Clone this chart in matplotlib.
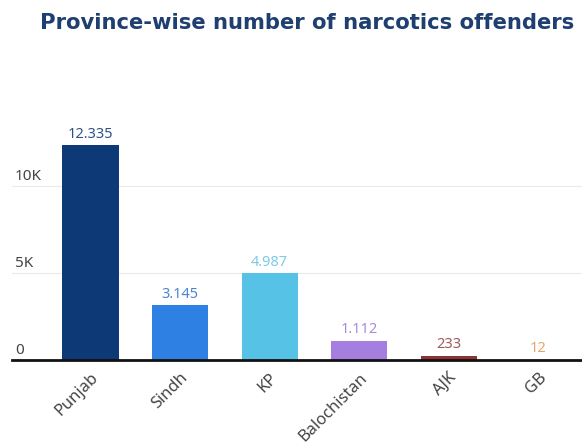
import matplotlib
matplotlib.use("Agg")
import matplotlib.pyplot as plt
import matplotlib.transforms as mtransforms

provinces = ["Punjab", "Sindh", "KP", "Balochistan", "AJK", "GB"]
offenders = [12335, 3145, 4987, 1112, 233, 12]
bar_colors = ["#0d3a76", "#2e80e2", "#56c3e6", "#a57fdf", "#8e3333", "#f0a45a"]
label_colors = ["#2f5186", "#4a86d0", "#7fcbe6", "#a98ad8", "#9c5a5a", "#e8a468"]
ytick_vals = [0, 5000, 10000]
ytick_text = ["0", "5K", "10K"]

plt.rcParams['font.family'] = ['Noto Sans', 'DejaVu Sans']

fig = plt.figure(figsize=(5.82, 4.45), dpi=100)
W, H = 582, 445
ymax = 14000
px_per_unit = 0.0174
ax_bottom = 360
ax_h = ymax * px_per_unit
ax = fig.add_axes([12 / W, (H - ax_bottom) / H, 570 / W, ax_h / H])

x = range(len(provinces))
ax.bar(x, offenders, width=0.626, color=bar_colors, zorder=3)
ax.set_xlim(-0.877, 5.49)
ax.set_ylim(0, ymax)

for s in ["top", "right", "left"]:
    ax.spines[s].set_visible(False)
ax.spines["bottom"].set_linewidth(2)
ax.spines["bottom"].set_color("#111111")
ax.spines["bottom"].set_zorder(4)

ax.set_yticks(ytick_vals)
ax.set_yticklabels([])
ax.tick_params(axis="y", length=0)
ax.yaxis.grid(True, color="#ebebeb", linewidth=0.8, zorder=0)

# y labels sit above the grid lines, left aligned
trans = mtransforms.blended_transform_factory(ax.transAxes, ax.transData)
for v, t in zip(ytick_vals, ytick_text):
    ax.text(0.005, v + 130, t, transform=trans, ha="left", va="bottom",
            fontsize=11, color="#444444")

for i, v in enumerate(offenders):
    txt = f"{v:,}".replace(",", ".")
    ax.text(i, v + 200, txt, ha="center", va="bottom", fontsize=10.5,
            color=label_colors[i])

ax.set_xticks(list(x))
ax.set_xticklabels(provinces, rotation=45, ha="right", rotation_mode="anchor",
                   fontsize=11.8, color="#444444")
ax.tick_params(axis="x", length=0, pad=7)

fig.text(307 / W, 1 - 23 / H, "Province-wise number of narcotics offenders",
         ha="center", va="center", fontsize=15.2, fontweight="bold",
         color="#1e3f70", family=["DejaVu Sans"])

fig.savefig("out.png", dpi=100)
